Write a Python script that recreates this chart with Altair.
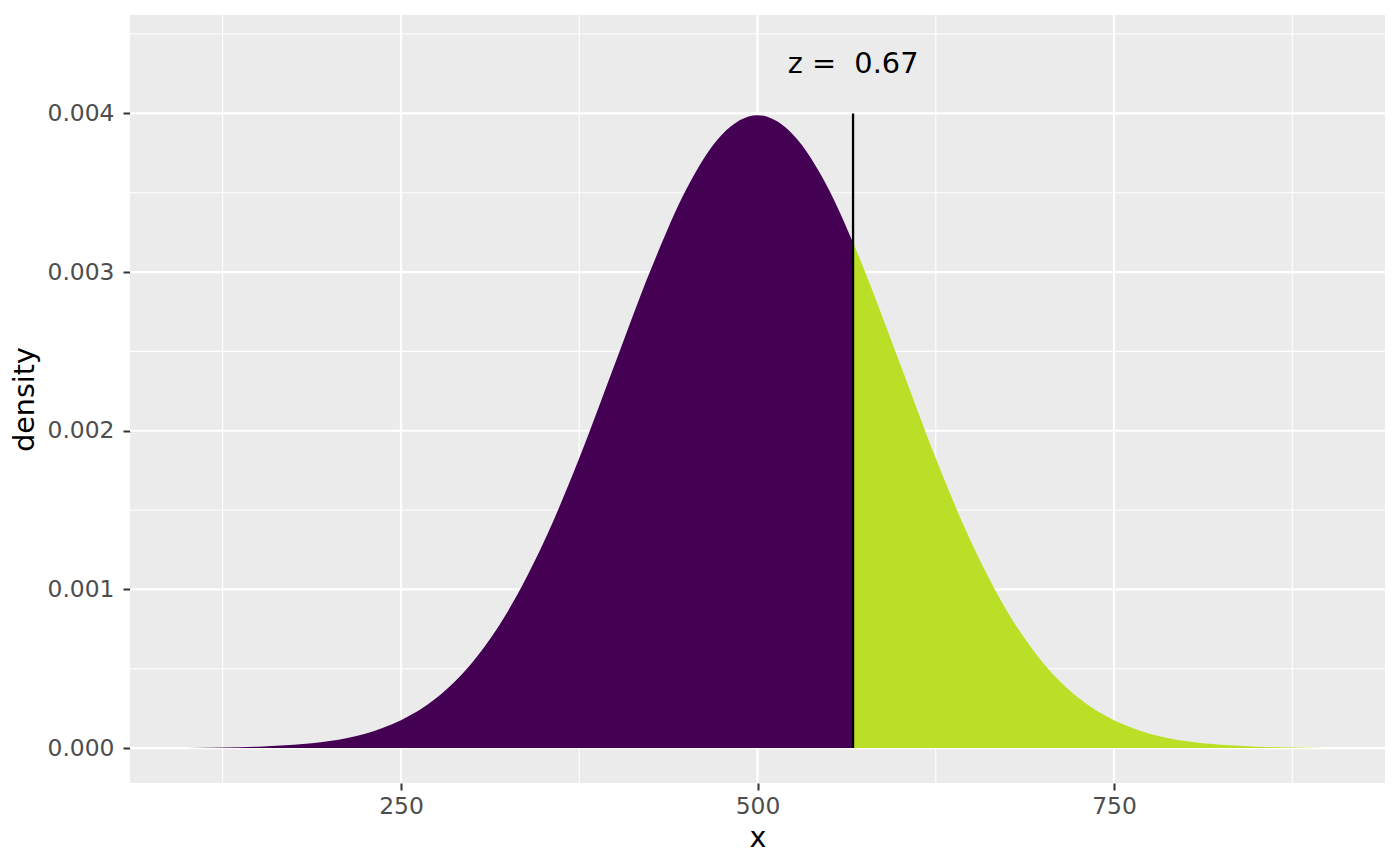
import altair as alt
import pandas as pd

# density values (normal curve, mean 500, sd 100)
x_left = [100, 125, 150, 175, 200, 225, 250, 275, 300, 325, 350, 375, 400, 425, 450, 475, 500, 525, 550, 567]
d_left = [0.0000013, 0.0000035, 0.0000087, 0.0000203, 0.0000443, 0.0000909, 0.000175, 0.000317, 0.000540,
          0.000863, 0.001295, 0.001826, 0.002420, 0.003011, 0.003521, 0.003866, 0.003989, 0.003866, 0.003521, 0.003187]
x_right = [567, 575, 600, 625, 650, 675, 700, 725, 750, 775, 800, 825, 850, 875, 900]
d_right = [0.003187, 0.003011, 0.002420, 0.001826, 0.001295, 0.000863, 0.000540, 0.000317, 0.000175,
           0.0000909, 0.0000443, 0.0000203, 0.0000087, 0.0000035, 0.0000013]

z_x = [567]
z_top = [0.004]
label_text = ["z =\u00a0\u00a00.67"]
label_y = [0.00431]

x_ticks = [250, 500, 750]
y_ticks = [0.0, 0.001, 0.002, 0.003, 0.004]
x_minor = [125, 375, 625, 875]
y_minor = [0.0005, 0.0015, 0.0025, 0.0035, 0.0045]

XDOM = [60, 940]
YDOM = [-0.00022, 0.00462]

left = pd.DataFrame({"x": x_left, "y": d_left})
right = pd.DataFrame({"x": x_right, "y": d_right})
vline = pd.DataFrame({"x": z_x, "y": [0.0], "y1": z_top})
lab = pd.DataFrame({"x": z_x, "y": label_y, "t": label_text})

xs = alt.Scale(domain=XDOM, nice=False, zero=False)
ys = alt.Scale(domain=YDOM, nice=False, zero=False)

xaxis = alt.Axis(values=x_ticks, title="x", grid=False, domain=False, tickColor="#333333",
                 tickSize=7, tickWidth=2, labelFontSize=23.4, labelColor="#4D4D4D",
                 labelFont="DejaVu Sans", titleFont="DejaVu Sans", titleFontSize=28.5,
                 titleFontWeight="normal", titleColor="black", labelPadding=5, titlePadding=6)
yaxis = alt.Axis(values=y_ticks, title="density", grid=False, domain=False, tickColor="#333333",
                 tickSize=7, tickWidth=2, labelFontSize=23.4, labelColor="#4D4D4D", format=".3f",
                 labelFont="DejaVu Sans", titleFont="DejaVu Sans", titleFontSize=28.5,
                 titleFontWeight="normal", titleColor="black", labelPadding=9, titlePadding=8)

X = lambda f: alt.X(f, type="quantitative", scale=xs, axis=xaxis)
Y = lambda f: alt.Y(f, type="quantitative", scale=ys, axis=yaxis)

minor_x = alt.Chart(pd.DataFrame({"x": x_minor})).mark_rule(color="white", strokeWidth=1.1).encode(x=X("x"))
minor_y = alt.Chart(pd.DataFrame({"y": y_minor})).mark_rule(color="white", strokeWidth=1.1).encode(y=Y("y"))
major_x = alt.Chart(pd.DataFrame({"x": x_ticks})).mark_rule(color="white", strokeWidth=2.2).encode(x=X("x"))
major_y = alt.Chart(pd.DataFrame({"y": y_ticks})).mark_rule(color="white", strokeWidth=2.2).encode(y=Y("y"))

area_left = alt.Chart(left).mark_area(color="#440154", interpolate="monotone").encode(
    x=X("x"), y=Y("y"), y2=alt.datum(0))
area_right = alt.Chart(right).mark_area(color="#BBDF27", interpolate="monotone").encode(
    x=X("x"), y=Y("y"), y2=alt.datum(0))

vl = alt.Chart(vline).mark_rule(color="black", strokeWidth=2.3).encode(x=X("x"), y=Y("y"), y2="y1:Q")

txt = alt.Chart(lab).mark_text(fontSize=28.8, font="DejaVu Sans", color="black", align="center",
                               baseline="middle").encode(x=X("x"), y=Y("y"), text="t:N")

chart = alt.layer(minor_x, minor_y, major_x, major_y, area_left, area_right, vl, txt).properties(
    width=1255, height=768,
    autosize=alt.AutoSizeParams(type="none"),
    padding={"left": 122, "top": 7, "right": 7, "bottom": 74},
).configure_view(fill="#EBEBEB", stroke=None)

chart.save("out.html", embed_options={"renderer": "svg", "actions": False})
